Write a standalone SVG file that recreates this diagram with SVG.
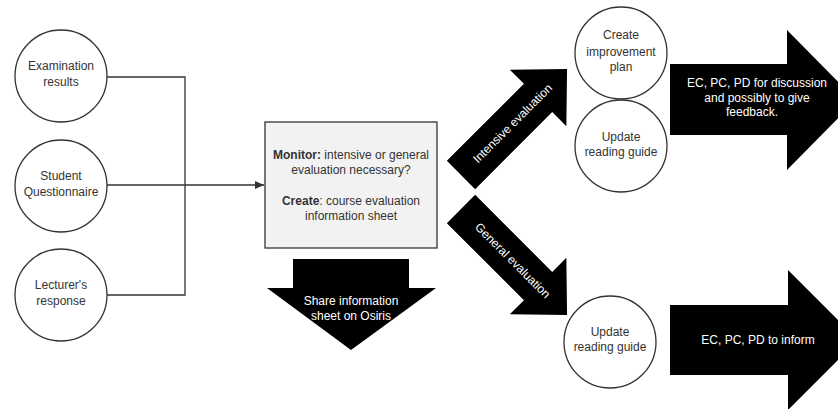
<svg xmlns="http://www.w3.org/2000/svg" width="838" height="409" viewBox="0 0 838 409">
<defs>
<style>
text{font-family:"Liberation Sans",Arial,sans-serif;font-size:12px;text-anchor:middle;}
.node{fill:#fff;stroke:#333;stroke-width:1.3;}
.dk{fill:#333;}
.wt{fill:#fff;}
.blk{fill:#000;}
.conn{fill:none;stroke:#333;stroke-width:1.3;}
</style>
<marker id="ah" markerWidth="10" markerHeight="8" refX="9" refY="4" orient="auto" markerUnits="userSpaceOnUse">
<path d="M0,0 L9,4 L0,8 Z" fill="#333"/>
</marker>
</defs>
<rect width="838" height="409" fill="#fff"/>

<g id="connectors">
<path class="conn" d="M107,77 H185 V295 H107"/>
<path class="conn" d="M107,185 H264" marker-end="url(#ah)"/>
</g>

<g id="exam">
<circle class="node" cx="61" cy="76" r="46"/>
<text class="dk" x="61" y="70">Examination</text>
<text class="dk" x="61" y="86">results</text>
</g>
<g id="student">
<circle class="node" cx="61" cy="186" r="46"/>
<text class="dk" x="61" y="180">Student</text>
<text class="dk" x="61" y="196">Questionnaire</text>
</g>
<g id="lecturer">
<circle class="node" cx="61" cy="295" r="46"/>
<text class="dk" x="61" y="289">Lecturer's</text>
<text class="dk" x="61" y="305">response</text>
</g>

<g id="monitor">
<rect x="265" y="122" width="172" height="126" fill="#f2f2f2" stroke="#333" stroke-width="1.3"/>
<text class="dk" x="351" y="159"><tspan font-weight="bold">Monitor:</tspan> intensive or general</text>
<text class="dk" x="351" y="174">evaluation necessary?</text>
<text class="dk" x="351" y="205"><tspan font-weight="bold">Create</tspan>: course evaluation</text>
<text class="dk" x="351" y="220">information sheet</text>
</g>

<g id="share">
<polygon class="blk" points="293,259 409,259 409,288 436,288 351,350 267,288 293,288"/>
<text class="wt" x="351" y="305">Share information</text>
<text class="wt" x="351" y="320">sheet on Osiris</text>
</g>

<g id="intensive" transform="translate(461,175) rotate(-45)">
<polygon class="blk" points="0,-20 109,-20 109,-40 150,0 109,40 109,20 0,20"/>
<text class="wt" x="73" y="4">Intensive evaluation</text>
</g>

<g id="general" transform="translate(461,209) rotate(45)">
<polygon class="blk" points="0,-20 109,-20 109,-40 150,0 109,40 109,20 0,20"/>
<text class="wt" x="73" y="4">General evaluation</text>
</g>

<g id="improve">
<circle class="node" cx="621" cy="53" r="46"/>
<text class="dk" x="621" y="39">Create</text>
<text class="dk" x="621" y="56">improvement</text>
<text class="dk" x="621" y="71">plan</text>
</g>
<g id="update1">
<circle class="node" cx="621" cy="146" r="46"/>
<text class="dk" x="621" y="141">Update</text>
<text class="dk" x="621" y="156">reading guide</text>
</g>
<g id="update2">
<circle class="node" cx="610" cy="342" r="46"/>
<text class="dk" x="610" y="336">Update</text>
<text class="dk" x="610" y="351">reading guide</text>
</g>

<g id="discuss">
<polygon class="blk" points="670,64 787,64 787,30 856,100 787,170 787,135 670,135"/>
<text class="wt" x="757" y="87">EC, PC, PD for discussion</text>
<text class="wt" x="757" y="102">and possibly to give</text>
<text class="wt" x="752" y="116">feedback.</text>
</g>

<g id="inform">
<polygon class="blk" points="670,305 788,305 788,270 858,340 788,410 788,375 670,375"/>
<text class="wt" x="758" y="344">EC, PC, PD to inform</text>
</g>
</svg>
